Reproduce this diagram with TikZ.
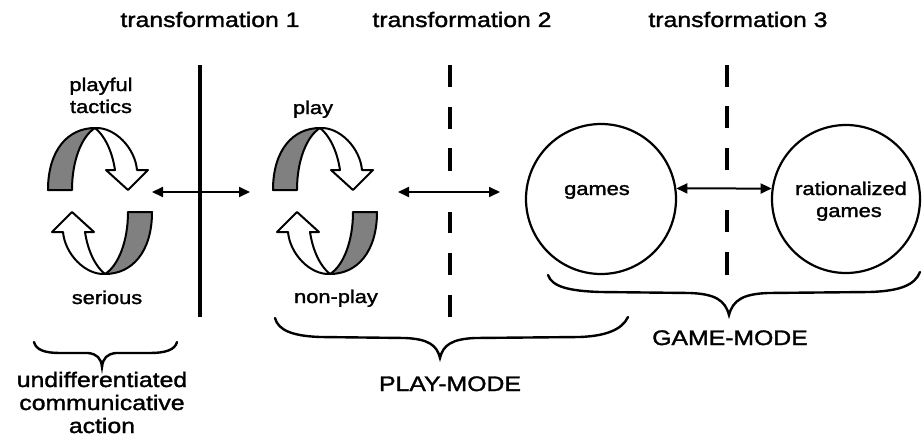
\documentclass[tikz,border=0pt]{standalone}
\usepackage{fontspec}
\setmainfont{Liberation Sans}[FakeStretch=1.18,FakeBold=1.6]
\usetikzlibrary{arrows.meta}
\begin{document}
\begin{tikzpicture}[x=1pt,y=-1pt,
  title/.style={font=\fontsize{21}{23}\selectfont, anchor=base, inner sep=0pt},
  lab/.style={font=\fontsize{18.5}{21}\selectfont, anchor=base, inner sep=0pt},
  mode/.style={font=\fontsize{21}{23}\selectfont, anchor=base, inner sep=0pt},
  divider/.style={line width=3.5pt},
  link/.style={line width=2pt, {Triangle[length=11pt,width=10pt]}-{Triangle[length=11pt,width=10pt]}},
  bubble/.style={circle, draw, line width=2.2pt, minimum size=150pt, inner sep=0pt},
  brace/.style={line width=2.4pt, line cap=round},
  band/.style={line width=2pt, line join=round},
  halfturn/.pic={
    % back face of the ribbon (shaded)
    \filldraw[band, fill=black!50] (-52,-11) -- (-28,-11)
      .. controls (-28,-41) and (-18,-65) .. (-5,-73)
      .. controls (-32,-73) and (-52,-51) .. (-52,-11) -- cycle;
    % front face ending in the arrow head
    \filldraw[band, fill=white] (-5,-73)
      .. controls (15,-74) and (35,-53) .. (37,-31)
      -- (48,-31) -- (28,-11) -- (6,-31) -- (15,-31)
      .. controls (12,-51) and (4,-66) .. (-5,-73) -- cycle;
  },
  twistcycle/.pic={
    \pic {halfturn};
    \pic[rotate=180] {halfturn};
  }]
\useasboundingbox (0,0) rectangle (922,439);

% headings
\node[title] (t1) at (210,27) {transformation 1};
\node[title] (t2) at (462,27) {transformation 2};
\node[title] (t3) at (738,27) {transformation 3};

% boundaries between the stages
\draw[divider] (200,65) -- (200,317);
\foreach \a/\b in {65/87,107/129,148/171,212/233,253/275,295/317}
  \draw[divider] (450,\a) -- (450,\b);
\foreach \a/\b in {65/87,106/128,148/170,210/232,252/275}
  \draw[divider] (727,\a) -- (727,\b);

% first cycle
\pic at (100,201) {twistcycle};
\node[lab] (pt1) at (101,91) {playful};
\node[lab] (pt2) at (101,113) {tactics};
\node[lab] (ser) at (107,304) {serious};

% second cycle
\pic at (325,201) {twistcycle};
\node[lab] (pl) at (313,114) {play};
\node[lab] (np) at (336,303) {non-play};

% games
\node[bubble] (games) at (601,199) {};
\node[bubble, minimum size=148pt] (rat) at (846,199) {};
\node[lab] (gl) at (597,195) {games};
\node[lab] (rl1) at (851,195) {rationalized};
\node[lab] (rl2) at (849,217) {games};

% connectors
\coordinate (c1e) at (152,192);
\coordinate (c2w) at (250,192);
\coordinate (c2e) at (398,192);
\coordinate (gw) at (500,192);
\draw[link] (c1e) -- (c2w);
\draw[link] (c2e) -- (gw);
\draw[link] (games.8) -- (rat.172);

% braces and mode labels
\draw[brace] (34,342) .. controls (36,350) and (45,353) .. (60,353) -- (88,353)
  .. controls (97,354) and (101,358) .. (102,367)
  .. controls (103,358) and (107,354) .. (116,353) -- (150,353)
  .. controls (165,353) and (175,350) .. (177,342);
\draw[brace] (275,318) .. controls (278,330) and (292,336) .. (320,337) -- (405,338)
  .. controls (428,339) and (437,345) .. (440,358)
  .. controls (443,345) and (452,339) .. (475,338) -- (580,337)
  .. controls (605,336) and (622,330) .. (628,317);
\draw[brace] (548,275) .. controls (552,287) and (570,291) .. (600,292) -- (690,293)
  .. controls (715,294) and (725,300) .. (729,315)
  .. controls (733,300) and (743,294) .. (768,293) -- (870,292)
  .. controls (900,291) and (915,285) .. (920,272);

\node[mode] (gm) at (730,345) {GAME-MODE};
\node[mode] (pm) at (450,391) {PLAY-MODE};
\node[mode] (u1) at (102,387) {undifferentiated};
\node[mode] (u2) at (102,410) {communicative};
\node[mode] (u3) at (102,433) {action};
\end{tikzpicture}
\end{document}
